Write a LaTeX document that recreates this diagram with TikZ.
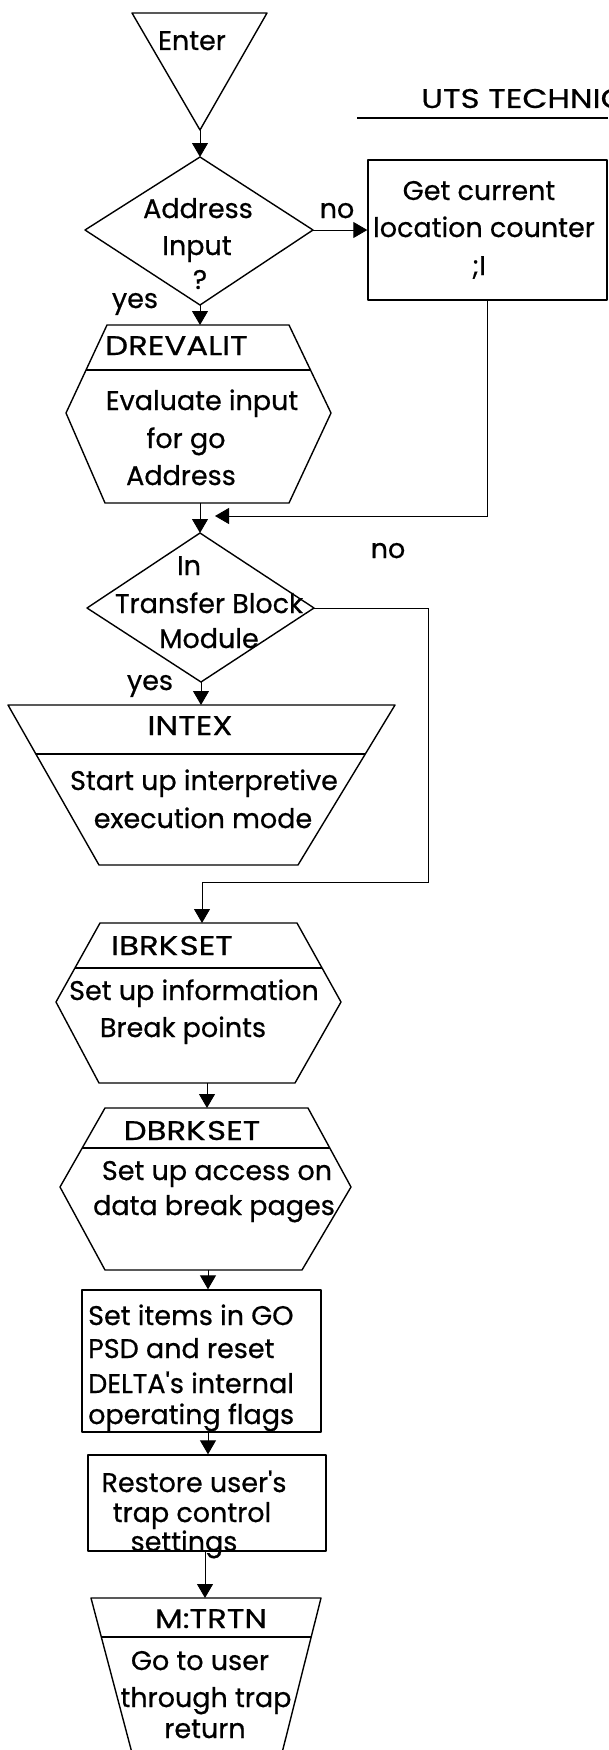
\documentclass[tikz,border=0pt]{standalone}
\usepackage{fontspec}
\setmainfont{Poppins}
\newfontfamily\flowfam{Poppins}[FakeBold=0.6]
\newfontfamily\capsfam{Poppins}[FakeBold=0.6, FakeStretch=1.2]
\usetikzlibrary{arrows.meta}
\newcommand\flowfont{\flowfam\fontsize{27}{34}\selectfont}
\newcommand\capsfont{\capsfam\fontsize{27}{34}\selectfont}
\begin{document}
\begin{tikzpicture}[x=1pt,y=-1pt,
  outline/.style={line width=1.4pt, line join=round},
  conn/.style={line width=0.9pt},
  arr/.style={conn, -{Triangle[length=14pt,width=16pt]}},
  lbl/.style={font=\flowfont, inner sep=0pt, anchor=base},
  caps/.style={font=\capsfont, inner sep=0pt, anchor=base},
]
\useasboundingbox (0,0) rectangle (608,1750);

% ---- heading (runs off the right edge of the sheet)
\node[caps, anchor=base west] (uts) at (421,108) {UTS TECHNIC};
\coordinate (ulA) at (357,118); \coordinate (ulB) at (608,118);
\draw[line width=1.3pt] (ulA) -- (ulB);

% ---- entry triangle
\coordinate (e1) at (132,13); \coordinate (e2) at (267,13); \coordinate (eapex) at (200,130);
\draw[outline] (e1) -- (e2) -- (eapex) -- cycle;
\node[lbl] (enter) at (192,50) {Enter};

% ---- decision: address input?
\coordinate (d1t) at (200,157); \coordinate (d1r) at (313,230);
\coordinate (d1b) at (200,305); \coordinate (d1l) at (85,230);
\draw[outline] (d1t) -- (d1r) -- (d1b) -- (d1l) -- cycle;
\node[lbl] (d1a) at (198,218) {Address};
\node[lbl] (d1b2) at (197,255) {Input};
\node[lbl] (d1c) at (200,289) {?};
\node[lbl] (no1) at (337,218) {no};
\node[lbl] (yes1) at (135,308) {yes};
\draw[arr] (eapex) -- (d1t);

% ---- get current location counter
\node[draw, outline, minimum width=239pt, minimum height=140pt, inner sep=0pt] (getloc) at (487.5,230) {};
\node[lbl] (g1) at (479,200) {Get current};
\node[lbl] (g2) at (484,237) {location counter};
\node[lbl] (g3) at (479,275) {;I};
\draw[arr] (d1r) -- (getloc.west);

% ---- DREVALIT
\coordinate (h1a) at (107,325); \coordinate (h1b) at (289,325);
\coordinate (h1r) at (331,413); \coordinate (h1c) at (289,503);
\coordinate (h1d) at (105,503); \coordinate (h1l) at (66,413);
\coordinate (h1top) at (200,325); \coordinate (h1bot) at (200,503);
\draw[outline] (h1a) -- (h1b) -- (h1r) -- (h1c) -- (h1d) -- (h1l) -- cycle;
\draw[outline] (86,370) -- (310.5,370);
\node[caps, anchor=base west] (drev) at (105,355) {DREVALIT};
\node[lbl] (dv1) at (202,410) {Evaluate input};
\node[lbl] (dv2) at (186,448) {for go};
\node[lbl] (dv3) at (181,485) {Address};
\draw[arr] (d1b) -- (h1top);

% ---- decision: in transfer block module?
\coordinate (d2t) at (200,533); \coordinate (d2r) at (314,608);
\coordinate (d2b) at (201,682); \coordinate (d2l) at (87,608);
\draw[outline] (d2t) -- (d2r) -- (d2b) -- (d2l) -- cycle;
\node[lbl] (t1) at (189,575) {In};
\node[lbl] (t2) at (209,613) {Transfer Block};
\node[lbl] (t3) at (209,648) {Module};
\node[lbl] (no2) at (388,558) {no};
\node[lbl] (yes2) at (150,690) {yes};
\draw[arr] (h1bot) -- (d2t);

% return path from the location counter box
\coordinate (merge) at (215,516);
\draw[arr] (getloc.south) |- (merge);

% ---- INTEX
\coordinate (i1) at (8,705); \coordinate (i2) at (395,705);
\coordinate (i3) at (298,865); \coordinate (i4) at (99,865);
\coordinate (itop) at (201,705);
\draw[outline] (i1) -- (i2) -- (i3) -- (i4) -- cycle;
\draw[outline] (36,754) -- (365,754);
\node[caps] (intex) at (190,735) {INTEX};
\node[lbl] (in1) at (204,790) {Start up interpretive};
\node[lbl] (in2) at (203,828) {execution mode};
\draw[arr] (d2b) -- (itop);

% ---- IBRKSET
\coordinate (b1a) at (100,923); \coordinate (b1b) at (297,923);
\coordinate (b1r) at (341,1002); \coordinate (b1c) at (295,1083);
\coordinate (b1d) at (99,1083); \coordinate (b1l) at (56,1002);
\coordinate (b1top) at (202,923); \coordinate (b1bot) at (207,1083);
\draw[outline] (b1a) -- (b1b) -- (b1r) -- (b1c) -- (b1d) -- (b1l) -- cycle;
\draw[outline] (75,968) -- (322,968);
\node[caps] (ib) at (172,955) {IBRK\kern1.5ptSET};
\node[lbl] (ib1) at (194,1000) {Set up information};
\node[lbl] (ib2) at (183,1037) {Break points};

% "no" branch around INTEX
\coordinate (nA) at (428,608); \coordinate (nB) at (202,882);
\draw[conn] (d2r) -- (nA) |- (nB);
\draw[arr] (nB) -- (b1top);

% ---- DBRKSET
\coordinate (b2a) at (105,1108); \coordinate (b2b) at (308,1108);
\coordinate (b2r) at (351,1187); \coordinate (b2c) at (302,1270);
\coordinate (b2d) at (105,1270); \coordinate (b2l) at (60,1187);
\coordinate (b2top) at (207,1108); \coordinate (b2bot) at (208,1270);
\draw[outline] (b2a) -- (b2b) -- (b2r) -- (b2c) -- (b2d) -- (b2l) -- cycle;
\draw[outline] (82,1148) -- (330,1148);
\node[caps] (db) at (192,1140) {DBRK\kern1.5ptSET};
\node[lbl] (db1) at (217,1180) {Set up access on};
\node[lbl] (db2) at (214,1215) {data break pages};
\draw[arr] (b1bot) -- (b2top);

% ---- set items in GO PSD
\node[draw, outline, minimum width=239pt, minimum height=142pt, inner sep=0pt] (setitems) at (201.5,1361) {};
\node[lbl, anchor=base west] (s1) at (88,1325) {Set items in GO};
\node[lbl, anchor=base west] (s2) at (88,1358) {PSD and reset};
\node[lbl, anchor=base west] (s3) at (88,1393) {DELTA\textquotesingle s internal};
\node[lbl, anchor=base west] (s4) at (88,1424) {operating flags};
\draw[arr] (b2bot) -- (b2bot |- setitems.north);

% ---- restore trap control
\node[draw, outline, minimum width=238pt, minimum height=96pt, inner sep=0pt] (restore) at (207,1503) {};
\node[lbl] (r1) at (194,1492) {Restore user\textquotesingle s};
\node[lbl] (r2) at (192,1522) {trap control};
\node[lbl] (r3) at (184,1551) {settings};
\coordinate (sbot) at (208,1432);
\draw[arr] (sbot) -- (sbot |- restore.north);

% ---- M:TRTN
\coordinate (m1) at (91,1598); \coordinate (m2) at (321,1598);
\coordinate (m3) at (282,1753); \coordinate (m4) at (132,1753);
\coordinate (mtop) at (205,1598); \coordinate (rbot) at (205,1551);
\draw[outline] (m1) -- (m2) -- (m3) -- (m4) -- cycle;
\draw[outline] (101.5,1637) -- (310.7,1637);
\node[caps] (mt) at (211,1628) {M:TRTN};
\node[lbl] (mt1) at (200,1670) {Go to user};
\node[lbl] (mt2) at (206,1707) {through trap};
\node[lbl] (mt3) at (205,1738) {return};
\draw[arr] (rbot) -- (mtop);
\end{tikzpicture}
\end{document}
